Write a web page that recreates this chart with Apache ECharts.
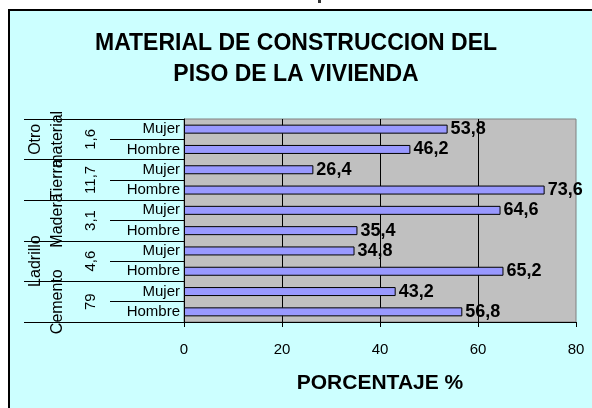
<!DOCTYPE html>
<html>
<head>
<meta charset="utf-8">
<script src="https://cdn.jsdelivr.net/npm/echarts@6/dist/echarts.min.js"></script>
<style>
  html, body { margin: 0; padding: 0; background: #fff; }
  .wrap { position: relative; width: 592px; height: 408px; overflow: hidden; }
  .frame {
    position: absolute; left: 8px; top: 9px; width: 700px; height: 500px;
    background: #ccffff; border-left: 2px solid #000; border-top: 2px solid #000;
  }
  .mark { position: absolute; left: 318px; top: 0; width: 3px; height: 3px; background: #333; }
  #chart { position: absolute; left: 0; top: 0; width: 592px; height: 408px; }
</style>
</head>
<body>
<div class="wrap">
  <div class="frame"></div>
  <div class="mark"></div>
  <div id="chart"></div>
</div>
<script>
// bottom to top, as the chart reads from the axis origin
var sexos = ['Hombre', 'Mujer'];
var materiales = ['Cemento', 'Ladrillo', 'Madera', 'Tierra', 'Otro material'];
var porcMaterial = ['79', '4,6', '3,1', '11,7', '1,6'];
var hombre = [56.8, 65.2, 35.4, 73.6, 46.2];
var mujer = [43.2, 34.8, 64.6, 26.4, 53.8];
var xTicks = [0, 20, 40, 60, 80];

var font = 'Liberation Sans, Arial, sans-serif';

var cats = [];
var vals = [];
for (var i = 0; i < materiales.length; i++) {
  cats.push(sexos[0]); vals.push(hombre[i]);
  cats.push(sexos[1]); vals.push(mujer[i]);
}

var chart = echarts.init(document.getElementById('chart'));
chart.setOption({
  backgroundColor: 'transparent',
  animation: false,
  title: {
    text: 'MATERIAL DE CONSTRUCCION DEL\nPISO DE LA VIVIENDA',
    left: 'center',
    top: 23,
    textStyle: { fontFamily: font, fontSize: 23, fontWeight: 'bold', color: '#000', lineHeight: 31 }
  },
  grid: {
    left: 184, right: 16, top: 119, bottom: 86,
    show: true, backgroundColor: '#c0c0c0', borderColor: '#808080', borderWidth: 1
  },
  xAxis: {
    type: 'value',
    min: xTicks[0], max: xTicks[xTicks.length - 1], interval: 20,
    axisLine: { show: true, lineStyle: { color: '#000' } },
    axisTick: { show: true, length: 5, lineStyle: { color: '#000' } },
    axisLabel: { color: '#000', fontFamily: font, fontSize: 15, margin: 20 },
    splitLine: { show: true, showMinLine: false, showMaxLine: false, lineStyle: { color: '#000', width: 1 } },
    name: 'PORCENTAJE %',
    nameLocation: 'middle',
    nameGap: 51,
    nameTextStyle: { color: '#000', fontFamily: font, fontSize: 21, fontWeight: 'bold' }
  },
  yAxis: [
    {
      type: 'category',
      data: cats,
      axisLine: { show: true, lineStyle: { color: '#000' } },
      axisTick: { show: true, interval: 0, length: 74, lineStyle: { color: '#000' } },
      axisLabel: { interval: 0, color: '#000', fontFamily: font, fontSize: 15, margin: 4 },
      splitLine: { show: false }
    },
    {
      type: 'category',
      data: porcMaterial,
      position: 'left',
      axisLine: { show: false },
      axisTick: { show: false },
      axisLabel: { interval: 0, rotate: 90, color: '#000', fontFamily: font, fontSize: 15, lineHeight: 16, margin: 85 },
      splitLine: { show: false }
    },
    {
      type: 'category',
      data: materiales,
      position: 'left',
      axisLine: { show: false },
      axisTick: { show: true, interval: 0, length: 160, lineStyle: { color: '#000' } },
      axisLabel: {
        interval: 0, rotate: 90, color: '#000', fontFamily: font, fontSize: 16, lineHeight: 22, margin: 115,
        formatter: function (v) {
          if (v === 'Otro material') return 'Otro\nmaterial';
          if (v === 'Ladrillo') return 'Ladrillo\n\u00a0';
          return v;
        }
      },
      splitLine: { show: false }
    }
  ],
  series: [{
    type: 'bar',
    data: vals,
    barWidth: 9,
    itemStyle: { color: '#9999ff', borderColor: '#000', borderWidth: 1 },
    label: {
      show: true, position: 'right', distance: 3,
      color: '#000', fontFamily: font, fontSize: 18, fontWeight: 'bold',
      formatter: function (p) { return String(p.value).replace('.', ','); }
    }
  }]
});
</script>
</body>
</html>
